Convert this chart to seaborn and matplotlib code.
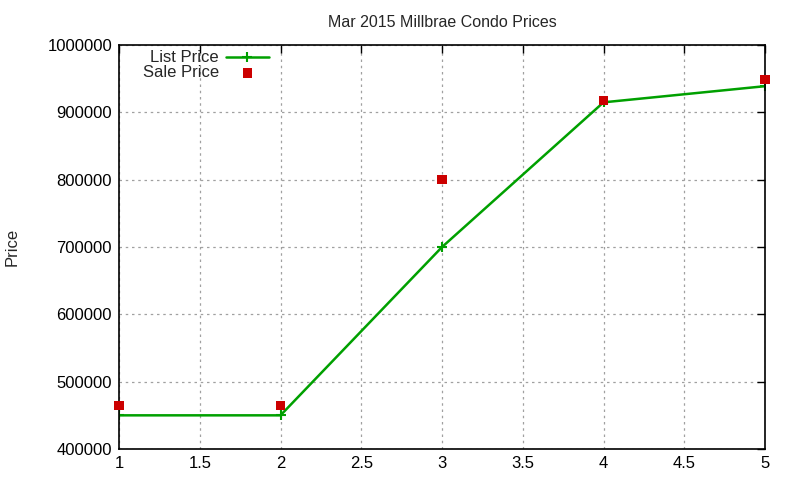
import matplotlib
matplotlib.use("Agg")
import matplotlib.pyplot as plt
import seaborn as sns
import pandas as pd

# Datos
listing = [1, 2, 3, 4, 5]
list_price = [450000, 450000, 700000, 915000, 939000]
sale_price = [465000, 465000, 800000, 918000, 949000]

df = pd.DataFrame({"Listing": listing, "List": list_price, "Sale": sale_price})

sns.set_style("white")
plt.rcParams['font.family'] = ['Liberation Sans', 'DejaVu Sans']

fig = plt.figure(figsize=(8, 4.8), dpi=100)
ax = fig.add_axes([0.14875, 0.0646, 0.8075, 0.8414])

sns.lineplot(data=df, x="Listing", y="List", ax=ax, color="#00a000", linewidth=1.8,
             marker="+", markersize=7, markeredgewidth=1.5, markeredgecolor="#00a000",
             label="List Price")
sns.scatterplot(data=df, x="Listing", y="Sale", ax=ax, color="#cc0000", marker="s",
                s=45, edgecolor="none", label="Sale Price", zorder=3, clip_on=False)

ax.set_xlim(1, 5)
ax.set_ylim(400000, 1000000)
ax.set_xticks([1, 1.5, 2, 2.5, 3, 3.5, 4, 4.5, 5])
ax.set_xticklabels(["1", "1.5", "2", "2.5", "3", "3.5", "4", "4.5", "5"])
ax.set_yticks(range(400000, 1000001, 100000))
ax.set_yticklabels([str(v) for v in range(400000, 1000001, 100000)])

ax.grid(True, color="#a0a0a0", linestyle=(0, (2, 3)), linewidth=0.9)
ax.tick_params(direction="in", length=6, width=1, top=True, right=True,
               labelsize=12, colors="black", pad=5)
for s in ax.spines.values():
    s.set_color("black")
    s.set_linewidth(1.2)

ax.set_xlabel("")
ax.set_ylabel("Price", fontsize=12, labelpad=20)
ax.set_title("Mar 2015 Millbrae Condo Prices", fontsize=11.5, pad=13)

ax.legend(loc="upper left", bbox_to_anchor=(0.024, 1.0076), frameon=False, markerfirst=False,
          fontsize=12, handlelength=2.6, handletextpad=0.4, labelspacing=0.0,
          borderaxespad=0.3, borderpad=0.2)

fig.savefig("out.png", dpi=100)
